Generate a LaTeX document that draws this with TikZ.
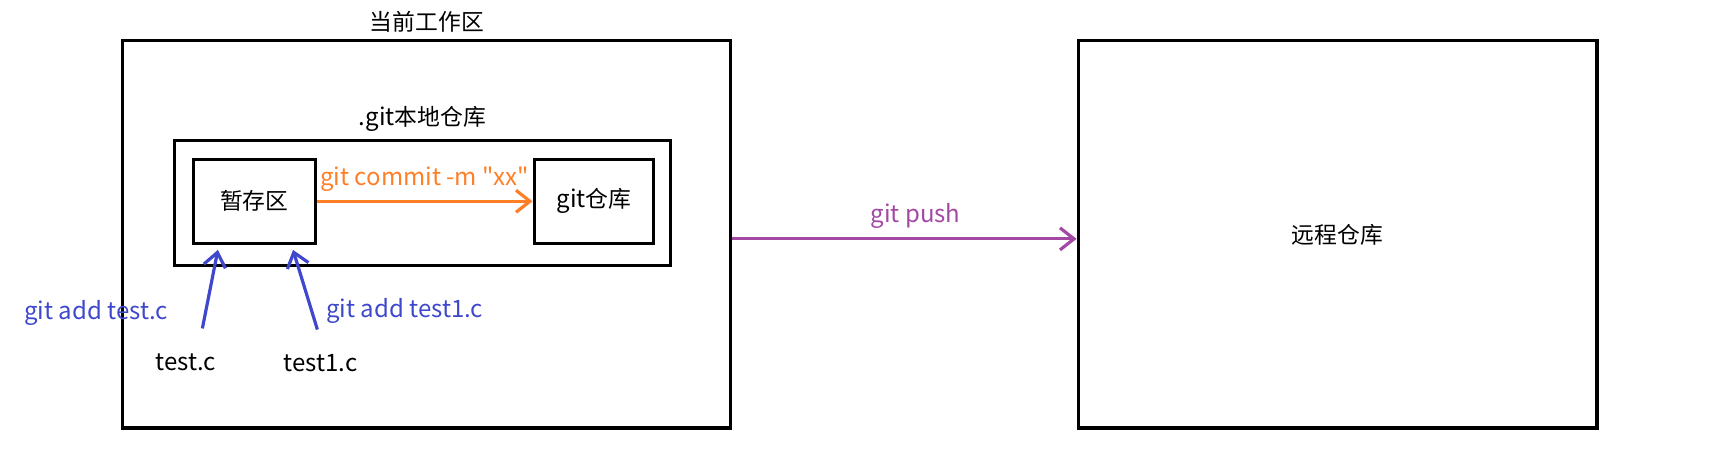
\documentclass[tikz,border=0pt]{standalone}
\usepackage{fontspec}
\newfontfamily\yahei{Noto Sans CJK SC}
\newfontfamily\zh{Noto Sans CJK SC}[Scale=0.95]
\usetikzlibrary{positioning,arrows.meta,calc}
\definecolor{paintOrange}{RGB}{255,127,39}
\definecolor{paintBlue}{RGB}{63,72,204}
\definecolor{paintPurple}{RGB}{163,73,164}

\begin{document}
\begin{tikzpicture}[x=0.553pt,y=-0.553pt,
  font=\yahei\fontsize{12}{14}\selectfont,
  box/.style={draw,line width=1.6pt,inner sep=0pt},
  cmd/.style={->,line width=1.6pt,>={Straight Barb[length=7pt,width=11pt]}}]
 \useasboundingbox (0,0) rectangle (1568,408);
 % boxes
 \node [box,minimum width=304pt,minimum height=193.6pt] (workArea) at (386,212) {};
 \node [box,minimum width=247.8pt,minimum height=62.5pt] (localRepo) at (382,183.5) {};
 \node [box,minimum width=60.8pt,minimum height=42pt] (stage) at (230,182) {\zh 暂存区};
 \node [box,minimum width=59.7pt,minimum height=42pt] (gitRepo) at (537,182) {git{\zh 仓库}};
 \node [box,minimum width=259.4pt,minimum height=193.6pt] (remote) at (1209.5,212) {\zh 远程仓库};
 \node [above=0pt of workArea] (workLabel) {\zh 当前工作区};
 \node [above=0pt of localRepo] (localLabel) {.git{\zh 本地仓库}};
 % files
 \node (testc) at (168,328) {test.c};
 \node (testOne) at (290,328) {test1.c};
 \node [text=paintBlue] (addTest) at (87,283) {git add test.c};
 \node [text=paintBlue] (addTestOne) at (366,281) {git add test1.c};
 % commands
 \draw [cmd,paintBlue] ($(testc)+(15,-31)$) -- ($(stage)+(-33,44)$);
 \draw [cmd,paintBlue] ($(testOne)+(-3,-30)$) -- ($(stage)+(35,44)$);
 \draw [cmd,paintOrange] (stage) -- node [above=1pt] {git commit -m "xx"} (gitRepo);
 \draw [cmd,paintPurple] ($(workArea.east)+(0,4)$) -- node [above=1pt,xshift=5.5pt] {git push} ($(remote.west)+(0,4)$);
\end{tikzpicture}
\end{document}
